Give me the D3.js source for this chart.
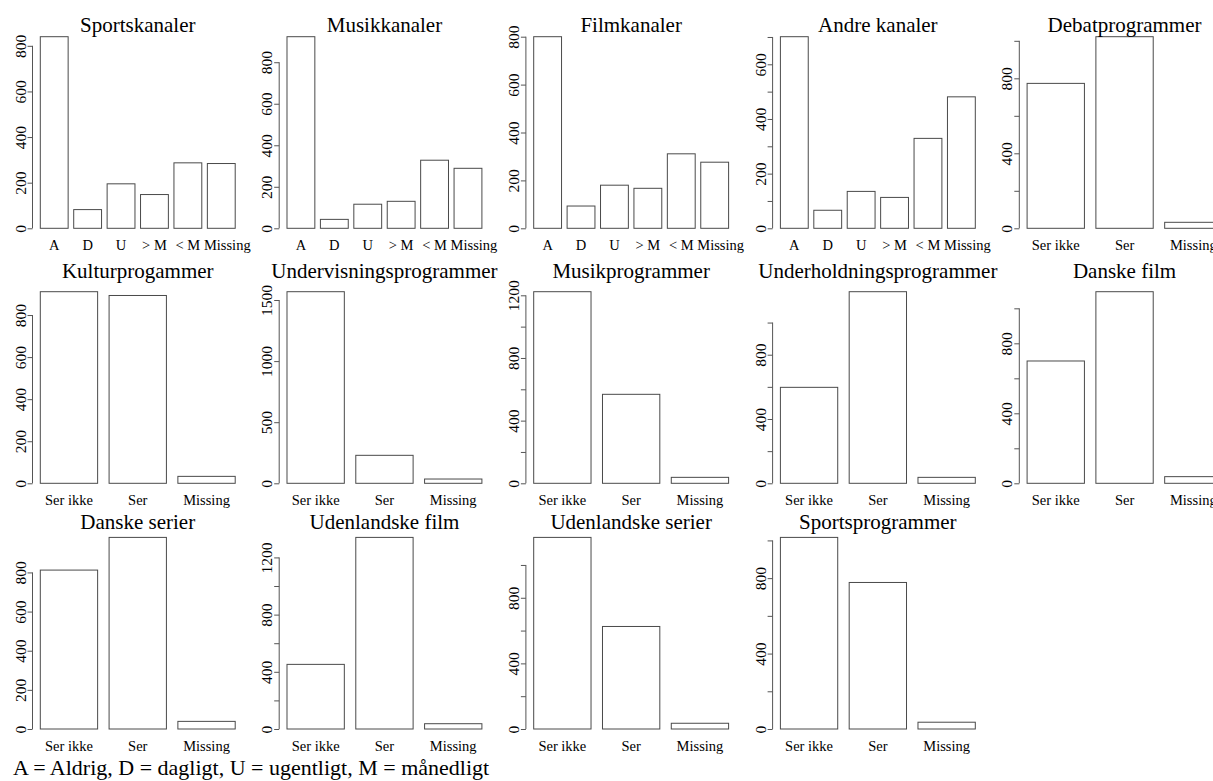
<!DOCTYPE html>
<html>
<head>
<meta charset="utf-8">
<script src="https://cdn.jsdelivr.net/npm/d3@7"></script>
<style>
  body { margin: 0; background: #fff; }
</style>
</head>
<body>
<script>
// panel titles, in reading order
var titles = ["Sportskanaler", "Musikkanaler", "Filmkanaler", "Andre kanaler", "Debatprogrammer",
              "Kulturprogammer", "Undervisningsprogrammer", "Musikprogrammer", "Underholdningsprogrammer", "Danske film",
              "Danske serier", "Udenlandske film", "Udenlandske serier", "Sportsprogrammer"];

var freqCats = ["A", "D", "U", "> M", "< M", "Missing"];
var seenCats = ["Ser ikke", "Ser", "Missing"];

// counts per panel
var counts = [
  [840, 82, 195, 148, 287, 284],
  [923, 43, 116, 130, 328, 289],
  [800, 93, 180, 167, 311, 276],
  [701, 66, 135, 113, 329, 481],
  [773, 1022, 32],
  [911, 893, 33],
  [1568, 229, 35],
  [1223, 568, 38],
  [597, 1192, 37],
  [699, 1095, 38],
  [812, 979, 39],
  [452, 1340, 37],
  [1168, 625, 35],
  [1016, 777, 36]
];

// y tick spacing and which ticks carry a label
var tickStep  = [200, 200, 200, 100, 200, 200, 500, 200, 200, 200, 200, 200, 200, 200];
var labelStep = [200, 200, 200, 200, 400, 200, 500, 400, 400, 400, 200, 400, 400, 400];

var footer = "A = Aldrig, D = dagligt, U = ugentligt, M = månedligt";

var FONT = "'Liberation Serif', 'DejaVu Serif', 'Times New Roman', Times, serif";

var width = 1213, height = 781;
var svg = d3.select("body").append("svg")
    .attr("width", width)
    .attr("height", height)
    .style("display", "block")
    .attr("font-family", FONT);

// layout (pixels)
var colPitch = 246.7, plotLeft = 32.5, plotW = 210.5;
var rowBase = [228.3, 483.3, 729];     // y of zero line in each row
var titleBase = [32, 278, 529];
var span = 191.6;                      // px from 0 to max bar

titles.forEach(function (title, i) {
    var row = Math.floor(i / 5), col = i % 5;
    var vals = counts[i];
    var cats = vals.length === 6 ? freqCats : seenCats;
    var n = vals.length;
    var maxV = d3.max(vals);

    // R barplot geometry: width 1, space 0.2, 4% axis expansion
    var lo = 0.2, hi = n * 1.2;
    var pad = (hi - lo) * 0.04;
    var x0 = plotLeft + col * colPitch;
    var x = d3.scaleLinear().domain([lo - pad, hi + pad]).range([x0, x0 + plotW]);

    var base = rowBase[row];
    var y = d3.scaleLinear().domain([0, maxV]).range([base, base - span]);

    var g = svg.append("g");

    g.selectAll("rect")
        .data(vals)
        .enter()
        .append("rect")
        .attr("x", function (d, j) { return x(lo + j * 1.2); })
        .attr("width", function (d, j) { return x(lo + j * 1.2 + 1) - x(lo + j * 1.2); })
        .attr("y", function (d) { return y(d); })
        .attr("height", function (d) { return y(0) - y(d); })
        .attr("fill", "#fff")
        .attr("stroke", "#4a4a4a")
        .attr("stroke-width", 1);

    // category names under bars (in the 6-bar panels "Missing" sits a bit right)
    g.selectAll("text.cat")
        .data(cats)
        .enter()
        .append("text")
        .attr("class", "cat")
        .attr("x", function (d, j) { return x(lo + j * 1.2 + 0.5); })
        .attr("dx", function (d, j) { return (n === 6 && j === 5) ? 6 : 0; })
        .attr("y", base + 21.5)
        .attr("text-anchor", "middle")
        .attr("font-family", FONT)
        .attr("font-size", "14.5px")
        .attr("fill", "#000")
        .text(function (d) { return d; });

    // y axis, ticks only up to the tallest bar
    var ticks = d3.range(0, maxV + 1, tickStep[i]);
    var axis = d3.axisLeft(y)
        .tickValues(ticks)
        .tickSize(5)
        .tickFormat(function (d) { return d % labelStep[i] === 0 ? d : ""; });

    var ax = g.append("g")
        .attr("transform", "translate(" + x0 + ",0)")
        .call(axis)
        .attr("font-family", FONT);
    ax.select(".domain")
        .attr("d", "M0," + y(ticks[0]) + "V" + y(ticks[ticks.length - 1]))
        .attr("stroke", "#555");
    ax.selectAll(".tick line").attr("stroke", "#555");
    ax.selectAll(".tick text")
        .attr("x", null)
        .attr("dy", null)
        .attr("transform", "translate(-7,0) rotate(-90)")
        .attr("text-anchor", "middle")
        .attr("font-size", "15.5px")
        .attr("font-family", FONT)
        .attr("fill", "#000");

    g.append("text")
        .attr("x", x0 + plotW / 2)
        .attr("y", titleBase[row])
        .attr("text-anchor", "middle")
        .attr("font-family", FONT)
        .attr("font-size", "21px")
        .attr("fill", "#000")
        .text(title);
});

svg.append("text")
    .attr("x", 13)
    .attr("y", 775)
    .attr("font-family", FONT)
    .attr("font-size", "22px")
    .attr("fill", "#000")
    .text(footer);
</script>
</body>
</html>
